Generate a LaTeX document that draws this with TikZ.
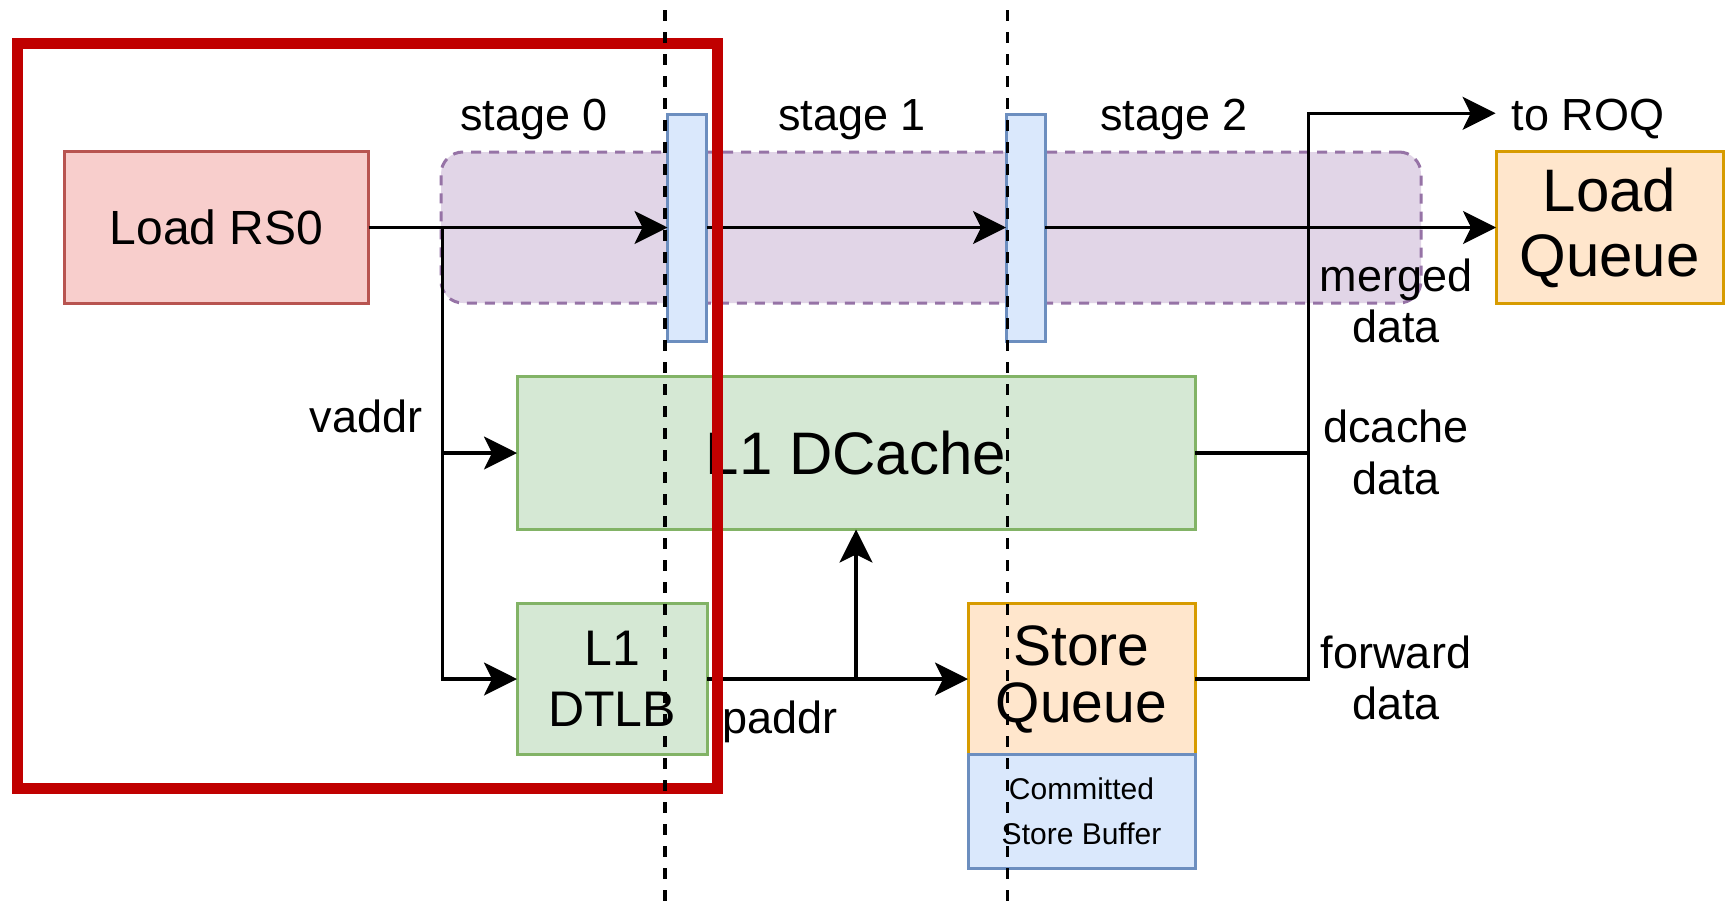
\documentclass[tikz,border=0pt]{standalone}
\usepackage{fontspec}
\setmainfont{Liberation Sans}
\usetikzlibrary{arrows.meta}

\definecolor{rsfill}{HTML}{F8CECC}
\definecolor{rsline}{HTML}{B85450}
\definecolor{grfill}{HTML}{D5E8D4}
\definecolor{grline}{HTML}{82B366}
\definecolor{orfill}{HTML}{FFE6CC}
\definecolor{orline}{HTML}{D79B00}
\definecolor{blfill}{HTML}{DAE8FC}
\definecolor{blline}{HTML}{6C8EBF}
\definecolor{pufill}{HTML}{E1D5E7}
\definecolor{puline}{HTML}{9673A6}
\definecolor{frame}{HTML}{C00000}

\newcommand\txtsize[2]{\fontsize{#1}{#2}\selectfont}

\begin{document}
\begin{tikzpicture}[x=1pt,y=-1pt,
  box/.style={draw, line width=3pt, inner sep=0pt, outer sep=0pt, align=center},
  greenbox/.style={box, fill=grfill, draw=grline},
  orangebox/.style={box, fill=orfill, draw=orline},
  regbox/.style={box, fill=blfill, draw=blline, minimum width=39pt, minimum height=227pt},
  lbl/.style={inner sep=0pt, outer sep=0pt, align=center, font=\txtsize{45}{51.5}},
  wire/.style={line width=3.2pt, line join=miter},
  arr/.style={wire, -{Stealth[length=33pt, width=33pt, inset=8pt]}},
  stageline/.style={line width=3.2pt, dash pattern=on 11pt off 11pt},
  redframe/.style={draw=frame, line width=11pt}
]
\useasboundingbox (0,0) rectangle (1728,908);
\fill[white] (0,0) rectangle (1728,908);

% pipeline band behind the stage registers
\node[box, fill=pufill, draw=puline, dash pattern=on 10pt off 8pt, rounded corners=22pt,
      minimum width=980pt, minimum height=151pt] (pipe) at (931,227.5) {};

% blocks
\node[box, fill=rsfill, draw=rsline, minimum width=304pt, minimum height=152pt,
      font=\txtsize{48}{56}] (rs0) at (216.5,227.5) {Load RS0};
\node[regbox] (reg0) at (687,227.5) {};
\node[regbox] (reg1) at (1025.5,227.5) {};
\node[orangebox, minimum width=227pt, minimum height=152pt,
      font=\txtsize{60}{65}] (lq) at (1609.5,227.5) {Load\\Queue};
\node[greenbox, minimum width=678pt, minimum height=153pt,
      font=\txtsize{60}{70}] (dcache) at (856,453) {L1 DCache};
\node[greenbox, minimum width=190pt, minimum height=151.5pt,
      font=\txtsize{50}{60.5}] (dtlb) at (612,679) {L1\\DTLB};
\node[orangebox, minimum width=227pt, minimum height=151pt,
      font=\txtsize{57}{57}] (sq) at (1081.5,679) {Store\\Queue};
\node[box, fill=blfill, draw=blline, minimum width=227pt, minimum height=114pt,
      font=\txtsize{30}{45}] (csb) at (1081.5,811.5) {Committed\\Store Buffer};

% labels
\node[lbl, anchor=base] (st0) at (534,130) {stage 0};
\node[lbl, anchor=base] (st1) at (852,130) {stage 1};
\node[lbl, anchor=base] (st2) at (1174,130) {stage 2};
\node[lbl, anchor=base] (roqlbl) at (1588,130) {to ROQ};
\node[lbl, anchor=base] (vaddr) at (366,432) {vaddr};
\node[lbl, anchor=base] (paddr) at (780,733) {paddr};
\node[lbl] (merged) at (1396,301) {merged\\data};
\node[lbl] (dcdata) at (1396,452.5) {dcache\\data};
\node[lbl] (fwdata) at (1396,678) {forward\\data};

% connectors
\coordinate (vsplit) at (442.5,227.5);
\coordinate (bustop) at (1308.5,113.3);
\coordinate (roq) at (1495.6,113.3);
\coordinate (pjoin) at (dcache.south |- dtlb.east);

\draw[arr] (rs0.east) -- (reg0.west);
\draw[arr] (reg0.east) -- (reg1.west);
\draw[arr] (reg1.east) -- (lq.west);
\draw[arr] (vsplit) |- (dtlb.west);
\draw[arr] (vsplit |- dcache.west) -- (dcache.west);
\draw[arr] (dtlb.east) -- (sq.west);
\draw[arr] (pjoin) -- (dcache.south);
\draw[arr] (sq.east) -| (bustop) -- (roq);
\draw[wire] (dcache.east) -- (dcache.east -| bustop);

% highlighted stage-0 region
\draw[redframe] (17.5,43.5) rectangle (717,788);

% stage boundaries
\coordinate (b0top) at (665,10);
\coordinate (b0bot) at (665,906);
\coordinate (b1top) at (1007.5,10);
\coordinate (b1bot) at (1007.5,906);
\draw[stageline] (b0top) -- (b0bot);
\draw[stageline] (b1top) -- (b1bot);
\end{tikzpicture}
\end{document}
